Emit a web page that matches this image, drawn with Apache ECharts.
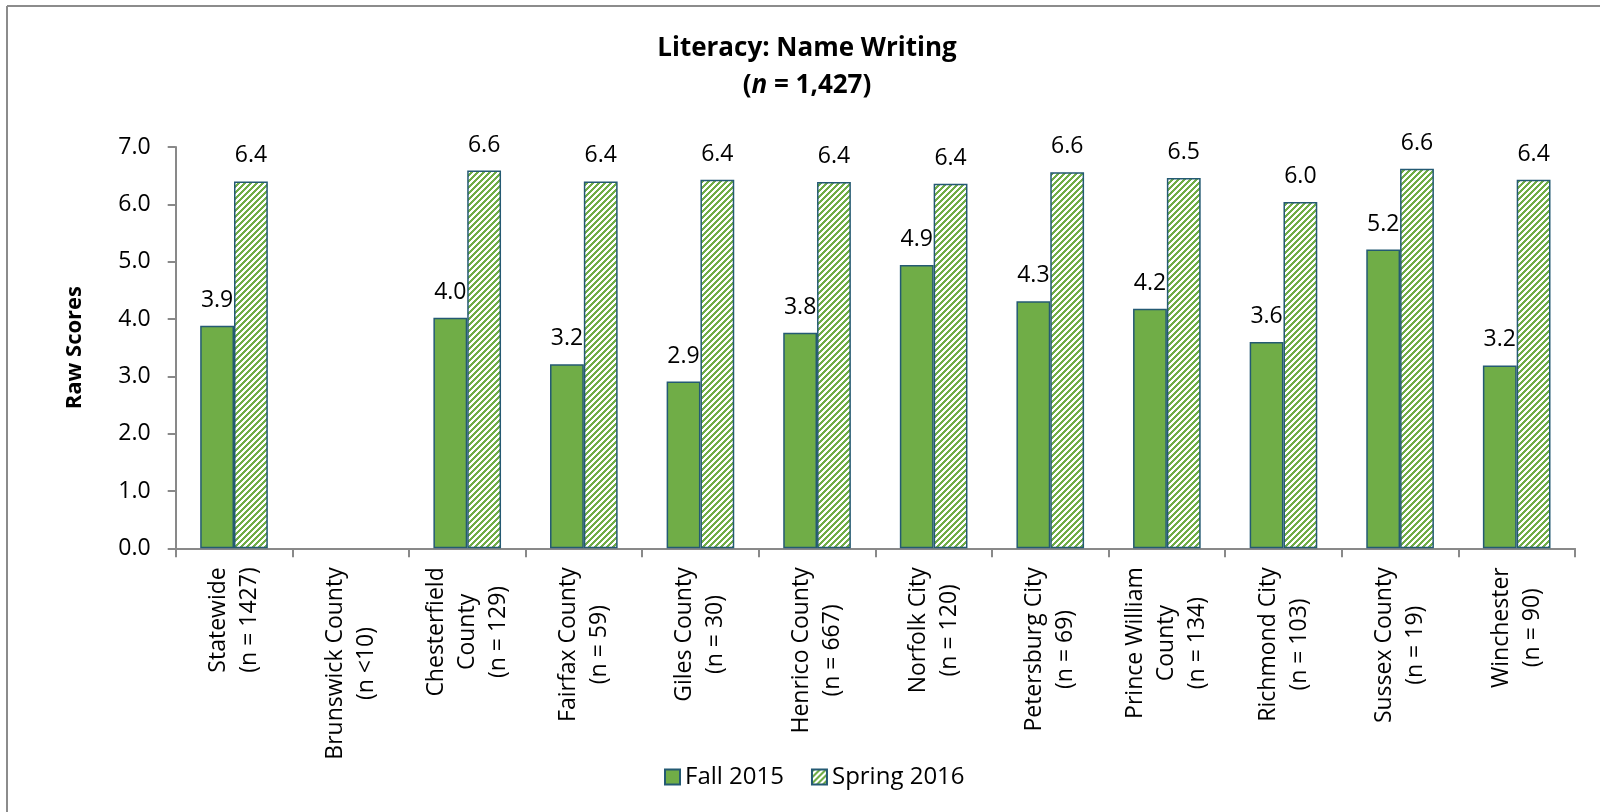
<!DOCTYPE html>
<html>
<head>
<meta charset="utf-8">
<script src="https://cdn.jsdelivr.net/npm/echarts@6/dist/echarts.min.js"></script>
<style>
  html, body { margin: 0; padding: 0; background: #fff; }
  #chart { width: 1600px; height: 812px; }
</style>
</head>
<body>
<div id="chart"></div>
<script>
const categories = [
  'Statewide\n(n = 1427)',
  'Brunswick County\n(n <10)',
  'Chesterfield\nCounty\n(n = 129)',
  'Fairfax County\n(n = 59)',
  'Giles County\n(n = 30)',
  'Henrico County\n(n = 667)',
  'Norfolk City\n(n = 120)',
  'Petersburg City\n(n = 69)',
  'Prince William\nCounty\n(n = 134)',
  'Richmond City\n(n = 103)',
  'Sussex County\n(n = 19)',
  'Winchester\n(n = 90)'
];
const fall2015 = [3.88, null, 4.02, 3.21, 2.91, 3.76, 4.94, 4.31, 4.18, 3.60, 5.21, 3.19];
const spring2016 = [6.40, null, 6.59, 6.40, 6.43, 6.39, 6.36, 6.56, 6.46, 6.04, 6.62, 6.43];
const yTicks = { min: 0, max: 7, interval: 1 };
const seriesNames = ['Fall 2015', 'Spring 2016'];

const FONT = '"Open Sans", "DejaVu Sans", sans-serif';
const GREEN = '#70AD47';
const EDGE = '#245A73';
const GRAY = '#898989';

function makeHatch() {
  const s = 6;
  const c = document.createElement('canvas');
  c.width = s; c.height = s;
  const ctx = c.getContext('2d');
  ctx.fillStyle = '#ffffff';
  ctx.fillRect(0, 0, s, s);
  ctx.fillStyle = GREEN;
  for (let y = 0; y < s; y++) {
    for (let x = 0; x < s; x++) {
      if (((x + y) % s) < 3) ctx.fillRect(x, y, 1, 1);
    }
  }
  return c;
}
const hatch = { image: makeHatch(), repeat: 'repeat' };

const chart = echarts.init(document.getElementById('chart'), null, { renderer: 'canvas' });

const labelCfg = {
  show: true,
  position: 'top',
  distance: 14,
  color: '#000',
  fontFamily: FONT,
  fontSize: 23,
  formatter: p => (p.value == null ? '' : p.value.toFixed(1))
};

chart.setOption({
  animation: false,
  backgroundColor: '#fff',
  graphic: [
    { type: 'line', shape: { x1: 7, y1: 6, x2: 1600, y2: 6 }, style: { stroke: '#8c8c8c', lineWidth: 2 } },
    { type: 'line', shape: { x1: 7, y1: 6, x2: 7, y2: 812 }, style: { stroke: '#8c8c8c', lineWidth: 2 } },
    {
      type: 'text', x: 807, y: 49,
      style: { text: 'Literacy: Name Writing', fontFamily: FONT, fontWeight: 'bold', fontSize: 26, fill: '#000', align: 'center', verticalAlign: 'middle' }
    },
    {
      type: 'text', x: 807, y: 86,
      style: {
        text: '{b|(}{i|n}{b| = 1,427)}',
        align: 'center', verticalAlign: 'middle',
        rich: {
          b: { fontFamily: FONT, fontWeight: 'bold', fontSize: 26, fill: '#000' },
          i: { fontFamily: FONT, fontWeight: 'bold', fontStyle: 'italic', fontSize: 26, fill: '#000' }
        }
      }
    }
  ],
  legend: {
    left: 659, top: 760,
    itemWidth: 15, itemHeight: 15, itemGap: 27,
    icon: 'rect',
    textStyle: { fontFamily: FONT, fontSize: 24, color: '#000' },
    data: seriesNames
  },
  grid: { left: 175.7, right: 25, top: 147, bottom: 263.7, containLabel: false },
  xAxis: {
    type: 'category',
    data: categories,
    axisLine: { lineStyle: { color: GRAY, width: 2 } },
    axisTick: { show: true, length: 9, lineStyle: { color: GRAY, width: 2 } },
    axisLabel: {
      rotate: 90, interval: 0, margin: 19,
      formatter: v => v.split('\n').map(l => '{c|' + l + '}').join('\n'),
      rich: { c: { align: 'center', fontFamily: FONT, fontSize: 23, lineHeight: 31, color: '#000' } }
    }
  },
  yAxis: {
    type: 'value',
    min: yTicks.min, max: yTicks.max, interval: yTicks.interval,
    name: 'Raw Scores', nameLocation: 'middle', nameGap: 90,
    nameTextStyle: { fontFamily: FONT, fontWeight: 'bold', fontSize: 22, color: '#000' },
    axisLine: { show: true, lineStyle: { color: GRAY, width: 2 } },
    axisTick: { show: true, length: 8, lineStyle: { color: GRAY, width: 2 } },
    splitLine: { show: false },
    axisLabel: { margin: 25, fontFamily: FONT, fontSize: 23, color: '#000', formatter: v => v.toFixed(1) }
  },
  series: [
    {
      name: seriesNames[0], type: 'bar', data: fall2015,
      barGap: '0%', barCategoryGap: '42%',
      itemStyle: { color: GREEN, borderColor: EDGE, borderWidth: 1.5 },
      label: labelCfg
    },
    {
      name: seriesNames[1], type: 'bar', data: spring2016,
      barGap: '0%', barCategoryGap: '42%',
      itemStyle: { color: hatch, borderColor: EDGE, borderWidth: 1.5 },
      label: labelCfg
    }
  ]
});
</script>
</body>
</html>
